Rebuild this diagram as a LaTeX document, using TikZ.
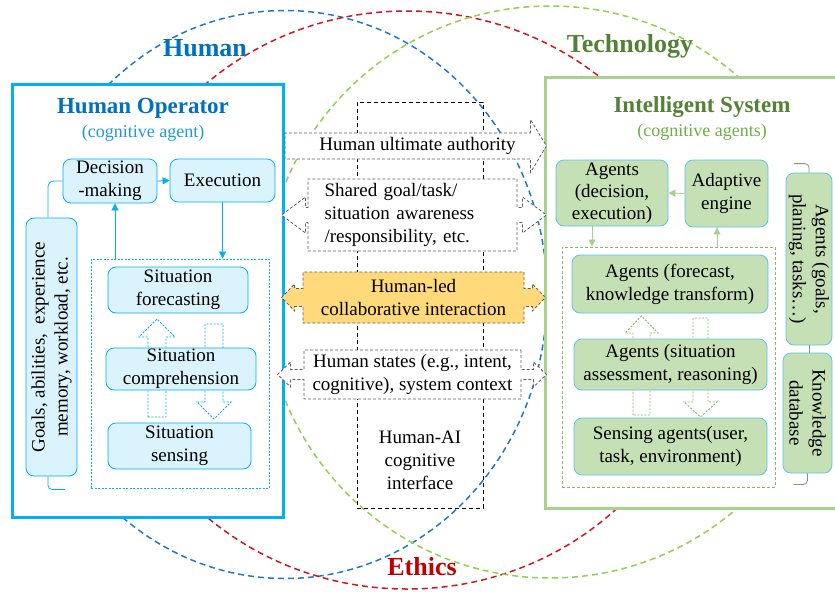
\documentclass[tikz,border=0pt]{standalone}
\usepackage{fontspec}
\setmainfont{Liberation Serif}
\usepackage{tikz}
\usetikzlibrary{shapes.arrows,arrows.meta}

\definecolor{humanblue}{HTML}{0070C0}
\definecolor{opcyan}{HTML}{00B0F0}
\definecolor{opfill}{HTML}{DAF3FC}
\definecolor{opsub}{HTML}{1E9BD7}
\definecolor{techgreen}{HTML}{548235}
\definecolor{syssub}{HTML}{70AD47}
\definecolor{sysdash}{HTML}{86BA63}
\definecolor{sysgreen}{HTML}{A9D18E}
\definecolor{sysfill}{HTML}{C5E0B4}
\definecolor{sysline}{HTML}{5CC3EC}
\definecolor{syshook}{HTML}{7F9F6F}
\definecolor{ethicsred}{HTML}{C00000}
\definecolor{ringblue}{HTML}{2079C7}
\definecolor{ringred}{HTML}{D0161E}
\definecolor{ringgreen}{HTML}{92D050}
\definecolor{calloutgrey}{HTML}{5F5F5F}
\definecolor{ledfill}{HTML}{FFD97A}

\tikzset{
  ring/.style={dash pattern=on 6pt off 4pt, line width=1.5pt},
  panel/.style={line width=3pt, fill=white},
  opbox/.style={draw=opcyan, fill=opfill, rounded corners=8pt, line width=0.8pt, align=center, inner sep=1pt},
  sysbox/.style={draw=sysline, fill=sysfill, rounded corners=8pt, line width=0.8pt, align=center, inner sep=1pt},
  opflow/.style={draw=opcyan, line width=0.8pt, -{Triangle[length=7pt,width=7pt]}},
  sysflow/.style={draw=sysgreen, line width=0.8pt, -{Triangle[length=7pt,width=7pt]}},
  hollow/.style={dash pattern=on 2pt off 1.5pt, line width=0.9pt, fill=white},
  callout/.style={arrow box, draw=calloutgrey, dash pattern=on 3pt off 2pt, line width=0.8pt,
    fill=white, inner sep=1pt, align=center, arrow box north arrow=none, arrow box south arrow=none},
  bigtitle/.style={font=\bfseries\fontsize{26}{30}\selectfont},
  paneltitle/.style={font=\bfseries\fontsize{23}{27}\selectfont},
  panelsub/.style={font=\fontsize{18}{22}\selectfont}
}

\begin{document}
\begin{tikzpicture}[x=1pt, y=-1pt, font=\fontsize{19}{23}\selectfont]
\useasboundingbox (0,0) rectangle (835,595);

% the three rings
\draw[ring, ringblue] (285,294.5) ellipse [x radius=262pt, y radius=284pt];
\draw[ring, ringred] (407,300) ellipse [x radius=303pt, y radius=289pt];
\draw[ring, ringgreen] (550,292) ellipse [x radius=286pt, y radius=286pt];

% interface frame
\node[draw, dash pattern=on 4pt off 3pt, line width=0.8pt, minimum width=126pt, minimum height=406pt] (iface) at (420,305) {};

% panels
\node[panel, draw=opcyan, minimum width=271pt, minimum height=433pt] (opPanel) at (147.5,300.5) {};
\node[panel, draw=sysgreen, minimum width=295pt, minimum height=431pt] (sysPanel) at (692.5,292.5) {};

\node[paneltitle, text=humanblue] (opTitle) at (143,108) {Human Operator};
\node[panelsub, text=opsub] (opSub) at (143,133) {(cognitive agent)};
\node[paneltitle, text=techgreen] (sysTitle) at (702,107) {Intelligent System};
\node[panelsub, text=syssub] (sysSub) at (702,132) {(cognitive agents)};

% human operator
\node[opbox, minimum width=94pt, minimum height=44pt] (dec) at (110,181) {Decision\\-making};
\node[opbox, minimum width=105pt, minimum height=43pt] (exe) at (222.5,180.5) {Execution};
\node[opbox, rotate=90, minimum width=258pt, minimum height=51pt] (goals) at (51.5,347)
  {Goals, abilities,\ \ experience\\memory, workload, etc.};
\node[draw=opcyan, dash pattern=on 2pt off 1.5pt, line width=0.9pt, minimum width=178pt, minimum height=229pt] (sitbox) at (180,373.5) {};

\draw[hollow, draw=opcyan] (148,417) -- (148,337) -- (139,337) -- (157,319) -- (175,337) -- (166,337) -- (166,417) -- cycle;
\draw[hollow, draw=opcyan] (205,324) -- (205,402) -- (197,402) -- (214,419) -- (231,402) -- (223,402) -- (223,324) -- cycle;

\node[opbox, minimum width=140pt, minimum height=46pt] (fore) at (178,290) {Situation\\forecasting};
\node[opbox, minimum width=150pt, minimum height=42pt] (comp) at (181,369) {Situation\\comprehension};
\node[opbox, minimum width=143pt, minimum height=46pt] (sens) at (179.5,446) {Situation\\sensing};

\draw[opflow] (dec.east) -- (exe.west);
\draw[opflow] (exe.south) -- (exe.south |- sitbox.north);
\draw[opflow] ([xshift=5pt]dec.south |- sitbox.north) -- ([xshift=5pt]dec.south);
\draw[draw=opcyan, line width=0.8pt, rounded corners=6pt] ([xshift=-3.5pt]goals.east) |- (dec.west);
\draw[draw=opcyan, line width=0.8pt, rounded corners=4pt] ([xshift=-3.5pt]goals.west) -- ++(0,13) -- ++(17,0);

% intelligent system
\node[sysbox, minimum width=112pt, minimum height=66pt, font=\fontsize{19}{22}\selectfont] (agdec) at (612,193) {Agents\\(decision,\\execution)};
\node[sysbox, minimum width=83pt, minimum height=67pt] (adapt) at (726.5,193.5) {Adaptive\\engine};
\node[draw=sysdash, dash pattern=on 3pt off 2pt, line width=0.9pt, minimum width=213pt, minimum height=240pt] (rbox) at (668.5,367) {};

\draw[hollow, draw=sysdash] (633,415) -- (633,333) -- (625,333) -- (641.5,316) -- (658,333) -- (650,333) -- (650,415) -- cycle;
\draw[hollow, draw=sysdash] (693,318) -- (693,402) -- (684,402) -- (700.5,417) -- (717,402) -- (708,402) -- (708,318) -- cycle;

\node[sysbox, minimum width=196pt, minimum height=58pt] (agfore) at (670,284) {Agents (forecast,\\knowledge transform)};
\node[sysbox, minimum width=193pt, minimum height=51pt] (agassess) at (670.5,364.5) {Agents (situation\\assessment, reasoning)};
\node[sysbox, minimum width=193pt, minimum height=57pt] (agsens) at (670.5,446.5) {Sensing agents(user,\\task, environment)};
\node[sysbox, rotate=-90, minimum width=172pt, minimum height=46pt] (goalsR) at (809,259) {Agents (goals,\\planing, tasks\ldots)};
\node[sysbox, rotate=-90, minimum width=120pt, minimum height=49pt] (kdb) at (807.5,413) {Knowledge\\database};

\draw[sysflow] (adapt.west) -- (agdec.east);
\draw[sysflow] ([xshift=-20pt]agdec.south) -- ([xshift=-20pt]agdec.south |- rbox.north);
\draw[sysflow] ([xshift=-9.5pt]adapt.south |- rbox.north) -- ([xshift=-9.5pt]adapt.south);
\draw[syshook, line width=0.8pt, rounded corners=4pt] (goalsR.west) -- ++(0,-9) -- ++(-15,0);
\draw[syshook, line width=0.8pt] (goalsR.east) -- (goalsR.east |- kdb.west);
\draw[syshook, line width=0.8pt, rounded corners=4pt] (kdb.east) -- ++(0,11) -- ++(-14,0);

% human-AI interaction
\node[callout, minimum width=245pt, minimum height=26pt, arrow box east arrow=16pt, arrow box west arrow=none,
  arrow box shaft width=25.9pt, arrow box head extend=13.5pt, arrow box tip angle=118] (authority) at (407.5,146)
  {\hspace*{20pt}Human ultimate authority};
\node[callout, minimum width=209pt, minimum height=72pt, text width=176pt, align=left,
  arrow box east arrow=29pt, arrow box west arrow=26pt,
  arrow box shaft width=15pt, arrow box head extend=10.5pt, arrow box tip angle=74] (shared) at (412.5,215)
  {Shared goal/task/\\situation awareness\\/responsibility, etc.};
\node[callout, fill=ledfill, minimum width=221pt, minimum height=51pt,
  arrow box east arrow=21pt, arrow box west arrow=21pt,
  arrow box shaft width=18pt, arrow box head extend=4.5pt, arrow box tip angle=92] (led) at (413.5,297.5)
  {Human-led\\collaborative interaction};
\node[callout, minimum width=217pt, minimum height=49pt,
  arrow box east arrow=25pt, arrow box west arrow=26pt,
  arrow box shaft width=10pt, arrow box head extend=7.5pt, arrow box tip angle=88] (states) at (412.5,374.5)
  {Human states (e.g., intent,\\cognitive), system context};

\node[align=center] (ifaceText) at (420,460) {Human-AI\\cognitive\\interface};

% ring labels
\node[bigtitle, text=humanblue] (humanLabel) at (205,48) {Human};
\node[bigtitle, text=techgreen] (techLabel) at (630,46) {Technology};
\node[bigtitle, text=ethicsred] (ethicsLabel) at (422,567) {Ethics};
\end{tikzpicture}
\end{document}
